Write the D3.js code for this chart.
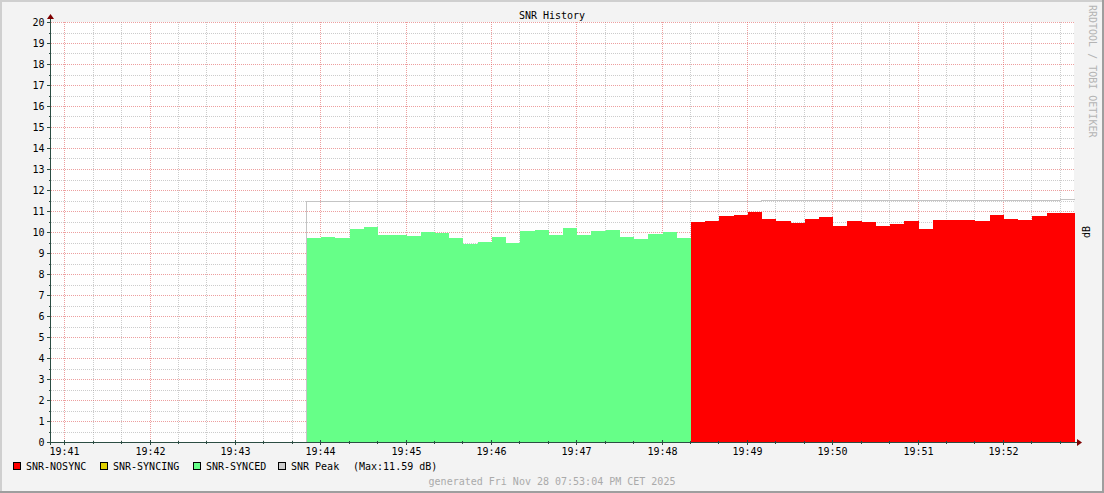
<!DOCTYPE html>
<html><head><meta charset="utf-8">
<script src="https://cdn.jsdelivr.net/npm/d3@7"></script>
<style>
html,body{margin:0;padding:0;background:#f3f3f3;}
svg{display:block;}
text{font-family:"DejaVu Sans Mono",monospace;font-size:10px;}
</style></head><body>
<svg id="chart" width="1104" height="493"></svg>
<script>
// ---- data ----
const title = "SNR History";
const yTickLabels = d3.range(0, 21).map(String);
const xTickLabels = ["19:41","19:42","19:43","19:44","19:45","19:46","19:47","19:48","19:49","19:50","19:51","19:52"];
const domainStart = "19:40:50";
const domainEnd = "19:52:50";
const stepSeconds = 10;
const syncedStart = "19:43:50";
const syncedValues = [9.71,9.76,9.71,10.14,10.24,9.87,9.87,9.83,10.0,9.95,9.71,9.43,9.52,9.76,
  9.48,10.05,10.10,9.86,10.19,9.86,10.05,10.10,9.76,9.67,9.90,10.0,9.71];
const nosyncStart = "19:48:20";
const nosyncValues = [10.48,10.52,10.76,10.81,10.95,10.62,10.52,10.43,10.62,10.71,10.29,10.52,10.48,10.29,
  10.38,10.52,10.14,10.57,10.57,10.57,10.52,10.81,10.62,10.57,10.76,10.90,10.90];
const peakStart = "19:43:50";
const peakValues = [].concat(d3.range(32).map(()=>11.46), d3.range(21).map(()=>11.51), [11.59]);
const legendItems = [
  {label:"SNR-NOSYNC", color:"#FF0000"},
  {label:"SNR-SYNCING", color:"#E0D000"},
  {label:"SNR-SYNCED", color:"#66FF88"},
  {label:"SNR Peak", color:"#CCCCCC"}
];
const peakMaxText = "(Max:11.59 dB)";
const generatedText = "generated Fri Nov 28 07:53:04 PM CET 2025";
const watermark = "RRDTOOL / TOBI OETIKER";
const unitLabel = "dB";

// ---- helpers ----
const toSec = s => { const p = s.split(":").map(Number); return p[0]*3600 + p[1]*60 + (p[2]||0); };
const series = (start, vals) => {
  const t0 = toSec(start);
  const pts = vals.map((v,i)=>({t:t0+i*stepSeconds, v}));
  pts.push({t:t0+vals.length*stepSeconds, v:vals[vals.length-1]});
  return pts;
};

const svg = d3.select("#chart");
const W = 1104, H = 493;
const L = 51, R = 1075, T = 22, B = 442;

// background + shading border
svg.append("rect").attr("width",W).attr("height",H).attr("fill","#f3f3f3");
svg.append("path").attr("d",`M0,0H${W}V2H2V${H}H0Z`).attr("fill","#cfcfcf");
svg.append("path").attr("d",`M${W},${H}H0V${H-2}H${W-2}V0H${W}Z`).attr("fill","#9e9e9e");
svg.append("rect").attr("x",L).attr("y",T).attr("width",R-L-1).attr("height",B-T).attr("fill","#fff");

const x = d3.scaleLinear().domain([toSec(domainStart), toSec(domainEnd)]).range([L, R]);
const y = d3.scaleLinear().domain([0, 20]).range([B, T]);
const px = t => Math.round(x(t)) - 1 + 0.5;   // pixel-centre for grid/ticks
const py = v => Math.round(y(v)) + 0.5;

const g = svg.append("g").attr("shape-rendering","crispEdges");

// minor grid
const minorX = d3.range(toSec(domainStart)+10, toSec(domainEnd)+1, 20).filter(t => t % 60 !== 0);
g.selectAll(".mgx").data(minorX).join("line")
  .attr("x1",px).attr("x2",px).attr("y1",T).attr("y2",B)
  .attr("stroke","rgba(143,143,143,0.45)").attr("stroke-dasharray","1,1");
const minorY = d3.range(0.5, 20, 1);
g.selectAll(".mgy").data(minorY).join("line")
  .attr("x1",L).attr("x2",R).attr("y1",py).attr("y2",py)
  .attr("stroke","rgba(143,143,143,0.45)").attr("stroke-dasharray","1,1");
// major grid
const majorX = xTickLabels.map(toSec);
g.selectAll(".Mgx").data(majorX).join("line")
  .attr("x1",px).attr("x2",px).attr("y1",T).attr("y2",B)
  .attr("stroke","rgba(222,80,80,0.55)").attr("stroke-dasharray","1,1");
g.selectAll(".Mgy").data(yTickLabels.map(Number).filter(v=>v>0)).join("line")
  .attr("x1",L).attr("x2",R).attr("y1",py).attr("y2",py)
  .attr("stroke","rgba(222,80,80,0.55)").attr("stroke-dasharray","1,1");

// areas
const area = d3.area().curve(d3.curveStepAfter).x(d=>x(d.t)).y0(y(0)).y1(d=>y(d.v));
g.append("path").datum(series(syncedStart, syncedValues)).attr("d",area).attr("fill","#66FF88");
g.append("path").datum(series(nosyncStart, nosyncValues)).attr("d",area).attr("fill","#FF0000");

// peak line
const peakPts = series(peakStart, peakValues);
const line = d3.line().curve(d3.curveStepAfter).x(d=>x(d.t)-0.5).y(d=>py(d.v));
const peakPath = [{t:peakPts[0].t, v:0}].concat(peakPts);
g.append("path").datum(peakPath).attr("d",line).attr("fill","none").attr("stroke","#c4c4c4").attr("stroke-width",1);

// axes
const axisColor = "#2c4d43";
const ax = L - 0.5;
g.append("line").attr("x1",ax).attr("x2",ax).attr("y1",B+3).attr("y2",T-4).attr("stroke",axisColor);
g.append("line").attr("x1",L-4).attr("x2",R+3).attr("y1",B+0.5).attr("y2",B+0.5).attr("stroke",axisColor);
svg.append("path").attr("d",`M${ax-3.5},${T-3}L${ax},${T-8}L${ax+3.5},${T-3}Z`).attr("fill","#7f0000");
svg.append("path").attr("d",`M${R+2},${B-3}L${R+7},${B+0.5}L${R+2},${B+4}Z`).attr("fill","#7f0000");

// y ticks
g.selectAll(".yt").data(yTickLabels.map(Number)).join("line")
  .attr("x1",L-4).attr("x2",L).attr("y1",py).attr("y2",py).attr("stroke",axisColor);
g.selectAll(".ytm").data(minorY).join("line")
  .attr("x1",L-2).attr("x2",L).attr("y1",py).attr("y2",py).attr("stroke",axisColor);
svg.selectAll(".yl").data(yTickLabels).join("text")
  .attr("x",44.5).attr("y",d=>y(+d)+3.5).attr("text-anchor","end").attr("fill","#000").text(d=>d);

// x ticks
g.selectAll(".xt").data(majorX).join("line")
  .attr("x1",px).attr("x2",px).attr("y1",B-2).attr("y2",B+3).attr("stroke",axisColor);
g.selectAll(".xtm").data(minorX).join("line")
  .attr("x1",px).attr("x2",px).attr("y1",B-1).attr("y2",B+2).attr("stroke",axisColor);
svg.selectAll(".xl").data(xTickLabels).join("text")
  .attr("x",d=>px(toSec(d))).attr("y",455).attr("text-anchor","middle").attr("fill","#000").text(d=>d);

// title
svg.append("text").attr("x",552).attr("y",19).attr("text-anchor","middle").attr("fill","#000").text(title);

// legend
const legX = [13, 100, 193, 278];
legendItems.forEach((it,i)=>{
  svg.append("rect").attr("x",legX[i]+0.5).attr("y",462.5).attr("width",7).attr("height",7)
    .attr("fill",it.color).attr("stroke","#000").attr("shape-rendering","crispEdges");
  svg.append("text").attr("x",legX[i]+13).attr("y",470).attr("fill","#000").text(it.label);
});
svg.append("text").attr("x",353).attr("y",470).attr("fill","#000").text(peakMaxText);

// generated
svg.append("text").attr("x",552).attr("y",485).attr("text-anchor","middle").attr("fill","#aaaaaa").text(generatedText);

// watermark
svg.append("text").attr("transform","translate(1089,5) rotate(90)").attr("fill","#b4b4b4").text(watermark);
// unit label
svg.append("text").attr("transform","translate(1090,232) rotate(-90)").attr("text-anchor","middle").attr("fill","#000").text(unitLabel);
</script>
</body></html>
